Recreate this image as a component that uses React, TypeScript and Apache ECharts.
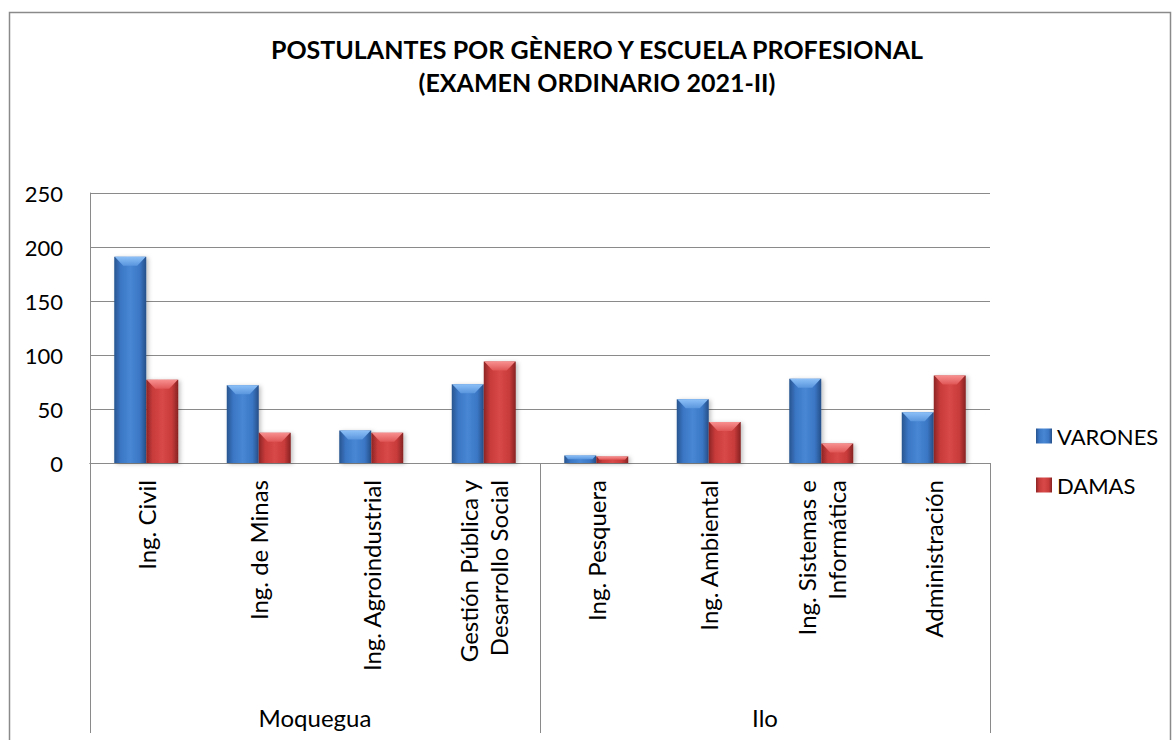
import React, { useEffect, useRef } from "react";
import * as echarts from "echarts";

const categories = [
  "Ing. Civil",
  "Ing. de Minas",
  "Ing. Agroindustrial",
  "Gestión Pública y\nDesarrollo Social",
  "Ing. Pesquera",
  "Ing. Ambiental",
  "Ing. Sistemas e\nInformática",
  "Administración",
];
const groups = ["Moquegua", "Ilo"];
const varones = [191, 72, 30, 73, 7, 59, 78, 47];
const damas = [77, 28, 28, 94, 6, 38, 18, 81];
const titleText = "POSTULANTES POR GÈNERO Y ESCUELA PROFESIONAL\n(EXAMEN ORDINARIO 2021-II)";

const FONT = "Lato, 'Open Sans', sans-serif";
const BAR_W = 32;
const GRAY = "#8a8a8a";

const blueBody = new echarts.graphic.LinearGradient(0, 0, 1, 0, [
  { offset: 0, color: "#28548f" },
  { offset: 0.2, color: "#3a76c4" },
  { offset: 0.5, color: "#4887d4" },
  { offset: 0.8, color: "#3a76c4" },
  { offset: 1, color: "#264f88" },
]);
const redBody = new echarts.graphic.LinearGradient(0, 0, 1, 0, [
  { offset: 0, color: "#8c2424" },
  { offset: 0.2, color: "#c83b3b" },
  { offset: 0.5, color: "#d84848" },
  { offset: 0.8, color: "#c83b3b" },
  { offset: 1, color: "#862222" },
]);

function bevelSeries(values: number[], side: number, top: string, bottom: string) {
  return {
    type: "custom",
    xAxisIndex: 0,
    yAxisIndex: 0,
    silent: true,
    z: 5,
    data: values.map((v, i) => [i, v]),
    encode: { x: 0, y: 1 },
    renderItem: (params: any, api: any) => {
      const idx = api.value(0);
      const val = api.value(1);
      const t = api.coord([idx, val]);
      const b = api.coord([idx, 0]);
      const x0 = side < 0 ? t[0] - BAR_W : t[0];
      const h = b[1] - t[1];
      const d = Math.min(9, h / 2);
      return {
        type: "polygon",
        shape: {
          points: [
            [x0 + 0.5, t[1]],
            [x0 + BAR_W - 0.5, t[1]],
            [x0 + BAR_W - d, t[1] + d],
            [x0 + d, t[1] + d],
          ],
        },
        style: {
          fill: new echarts.graphic.LinearGradient(0, 0, 0, 1, [
            { offset: 0, color: top },
            { offset: 1, color: bottom },
          ]),
        },
      };
    },
  };
}

export default function App() {
  const ref = useRef<HTMLDivElement>(null);
  useEffect(() => {
    if (!ref.current) return;
    const chart = echarts.init(ref.current, null, { renderer: "svg" });
    chart.setOption({
      animation: false,
      backgroundColor: "#ffffff",
      textStyle: { fontFamily: FONT },
      title: {
        text: titleText,
        left: 597,
        top: 32,
        padding: 0,
        textAlign: "center",
        textStyle: {
          fontFamily: FONT,
          fontSize: 25,
          fontWeight: "bold",
          lineHeight: 33,
          color: "#000",
        },
      },
      legend: {
        orient: "vertical",
        left: 1031,
        top: 420,
        itemWidth: 16,
        itemHeight: 15,
        itemGap: 27,
        icon: "rect",
        data: ["VARONES", "DAMAS"],
        textStyle: { fontFamily: FONT, fontSize: 22, color: "#000", lineHeight: 21, padding: [0, 0, 0, 0] },
      },
      graphic: [
        {
          type: "rect",
          left: 7,
          top: 10,
          shape: { x: 0, y: 0, width: 1161, height: 800 },
          style: { fill: "none", stroke: GRAY, lineWidth: 1.5 },
          silent: true,
        },
      ],
      grid: { left: 90, right: 182, top: 193, bottom: 277, containLabel: false },
      xAxis: [
        {
          type: "category",
          data: categories,
          position: "bottom",
          axisLine: { show: true, lineStyle: { color: GRAY, width: 1 } },
          axisTick: { show: false },
          axisLabel: {
            rotate: 90,
            margin: 17,
            interval: 0,
            fontFamily: FONT,
            fontSize: 24,
            lineHeight: 30,
            color: "#000",
          },
        },
        {
          type: "category",
          data: groups,
          position: "bottom",
          axisLine: { show: true, lineStyle: { color: GRAY, width: 1 } },
          axisTick: { show: true, length: 270, inside: false, lineStyle: { color: GRAY, width: 1 } },
          axisLabel: {
            margin: 242,
            interval: 0,
            fontFamily: FONT,
            fontSize: 24,
            color: "#000",
            verticalAlign: "top",
          },
        },
      ],
      yAxis: {
        type: "value",
        min: 0,
        max: 250,
        interval: 50,
        axisLine: { show: true, lineStyle: { color: GRAY, width: 1 } },
        axisTick: { show: false },
        splitLine: { show: true, lineStyle: { color: GRAY, width: 1 } },
        axisLabel: { margin: 27, fontFamily: FONT, fontSize: 22, color: "#000" },
      },
      series: [
        {
          name: "VARONES",
          type: "bar",
          xAxisIndex: 0,
          data: varones,
          barWidth: BAR_W,
          barGap: "0%",
          itemStyle: {
            color: blueBody,
            shadowBlur: 4,
            shadowOffsetX: 2,
            shadowOffsetY: 1,
            shadowColor: "rgba(0,0,0,0.25)",
          },
        },
        {
          name: "DAMAS",
          type: "bar",
          xAxisIndex: 0,
          data: damas,
          barWidth: BAR_W,
          barGap: "0%",
          itemStyle: {
            color: redBody,
            shadowBlur: 4,
            shadowOffsetX: 2,
            shadowOffsetY: 1,
            shadowColor: "rgba(0,0,0,0.25)",
          },
        },
        bevelSeries(varones, -1, "#8cc0f7", "#5a96de"),
        bevelSeries(damas, 1, "#f89090", "#e05656"),
      ],
    });
    return () => chart.dispose();
  }, []);
  return (
    <div
      ref={ref}
      style={{ position: "fixed", left: 0, top: 0, width: 1172, height: 740, background: "#fff" }}
    />
  );
}
